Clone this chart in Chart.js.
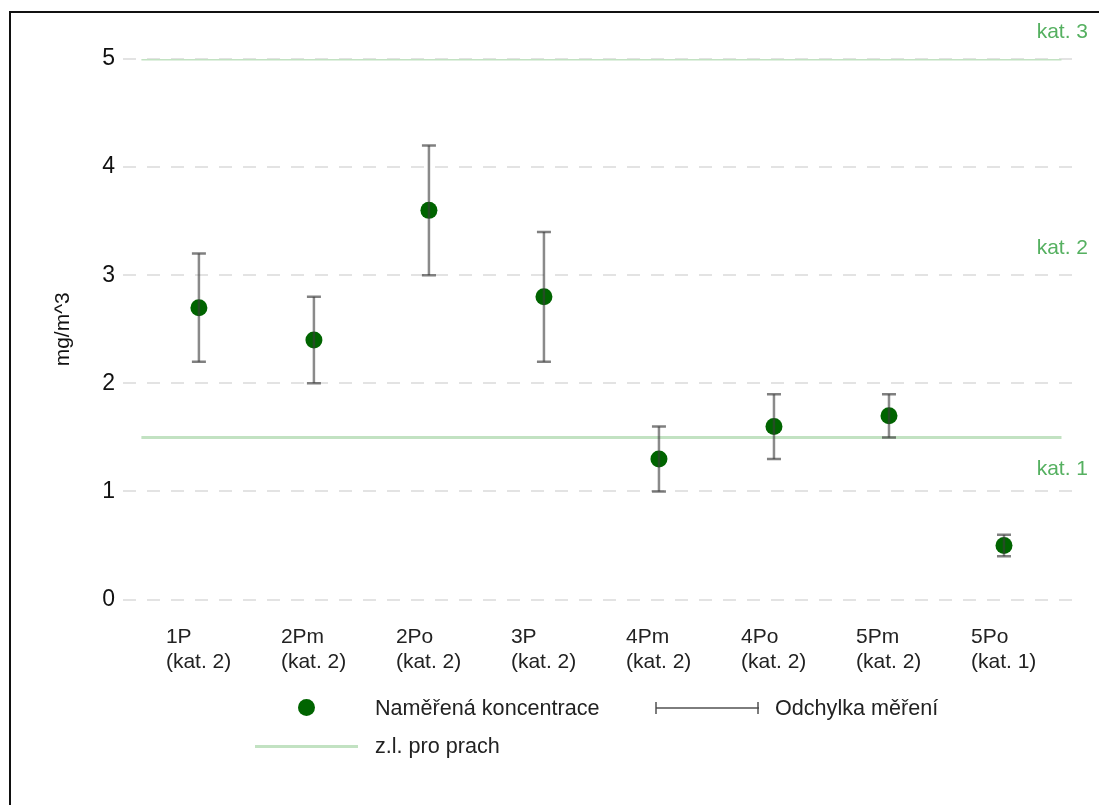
<!DOCTYPE html>
<html>
<head>
<meta charset="utf-8">
<script src="https://cdn.jsdelivr.net/npm/chart.js@4/dist/chart.umd.min.js"></script>
<style>
  html, body { margin: 0; padding: 0; background: #fff; }
  #wrap { position: relative; width: 1099px; height: 805px; overflow: hidden; font-family: "Liberation Sans", Arial, sans-serif; }
  #frame { position: absolute; left: 9px; top: 11px; right: -10px; bottom: -10px; border-left: 2px solid #111; border-top: 2px solid #111; pointer-events: none; }
  #legend .item { position: absolute; display: flex; align-items: center; height: 30px; font-size: 21.6px; color: #222; white-space: nowrap; }
  #legend .icon { position: relative; width: 103px; height: 30px; margin-right: 17px; }
  .dot { position: absolute; left: 43px; top: 6px; width: 17px; height: 17px; border-radius: 50%; background: #006400; }
  .hline { position: absolute; left: 0; top: 13.5px; width: 103px; height: 3px; background: #c2e2c2; }
  .eline { position: absolute; left: 1px; top: 14px; width: 103px; height: 2px; background: rgba(70,70,70,0.7); }
  .ecap { position: absolute; top: 9px; width: 2px; height: 12px; background: rgba(70,70,70,0.7); }
</style>
</head>
<body>
<div id="wrap">
  <canvas id="c" width="1099" height="805"></canvas>
  <div id="legend"></div>
  <div id="frame"></div>
</div>
<script>
// ---- data ----
const categories = ['1P', '2Pm', '2Po', '3P', '4Pm', '4Po', '5Pm', '5Po'];
const categoryClass = ['(kat. 2)', '(kat. 2)', '(kat. 2)', '(kat. 2)', '(kat. 2)', '(kat. 2)', '(kat. 2)', '(kat. 1)'];
const measured = [2.7, 2.4, 3.6, 2.8, 1.3, 1.6, 1.7, 0.5];
const errLow  = [2.2, 2.0, 3.0, 2.2, 1.0, 1.3, 1.5, 0.4];
const errHigh = [3.2, 2.8, 4.2, 3.4, 1.6, 1.9, 1.9, 0.6];
const limitValues = [5, 1.5];
const katLabels = ['kat. 1', 'kat. 2', 'kat. 3'];
const katLabelValues = [1.21, 3.25, 5.25];
const yTicks = [0, 1, 2, 3, 4, 5];
const seriesNames = ['Naměřená koncentrace', 'Odchylka měření', 'z.l. pro prach'];

// ---- style constants ----
const FONT = '"Liberation Sans", Arial, sans-serif';
const labelShift = 33 / 115;

const pointData = measured.map((v, i) => ({ x: i, y: v }));
const errData = [];
categories.forEach((c, i) => {
  errData.push({ x: i, y: errLow[i] });
  errData.push({ x: i, y: errHigh[i] });
  errData.push({ x: i, y: null });
});
const limitData = [];
limitValues.forEach(v => {
  limitData.push({ x: -0.5, y: v });
  limitData.push({ x: categories.length - 0.5, y: v });
  limitData.push({ x: categories.length - 0.5, y: null });
});

const katPlugin = {
  id: 'katLabels',
  afterDatasetsDraw(chart) {
    const ctx = chart.ctx;
    const y = chart.scales.y;
    ctx.save();
    ctx.font = '21px ' + FONT;
    ctx.fillStyle = '#55b060';
    ctx.textAlign = 'right';
    ctx.textBaseline = 'middle';
    katLabels.forEach((t, i) => {
      ctx.fillText(t, chart.chartArea.right + 15, y.getPixelForValue(katLabelValues[i]));
    });
    ctx.restore();
  }
};

const chart = new Chart(document.getElementById('c'), {
  type: 'line',
  data: {
    datasets: [
      {
        label: seriesNames[0],
        data: pointData,
        showLine: false,
        pointRadius: 8.5,
        pointHoverRadius: 8.5,
        pointBackgroundColor: '#006400',
        pointBorderWidth: 0,
        order: 1
      },
      {
        label: seriesNames[1],
        data: errData,
        borderColor: 'rgba(60,60,60,0.6)',
        borderWidth: 2.5,
        spanGaps: false,
        pointStyle: 'line',
        pointRadius: 7,
        pointHoverRadius: 7,
        pointBorderColor: 'rgba(60,60,60,0.65)',
        pointBorderWidth: 2.5,
        order: 0
      },
      {
        label: seriesNames[2],
        data: limitData,
        borderColor: '#c2e2c2',
        borderWidth: 3,
        pointRadius: 0,
        spanGaps: false,
        order: 2
      }
    ]
  },
  options: {
    responsive: false,
    animation: false,
    layout: { padding: { left: 20, top: 59, right: 26, bottom: 105 } },
    plugins: {
      legend: { display: false },
      tooltip: { enabled: false }
    },
    scales: {
      x: {
        type: 'linear',
        min: -0.66,
        max: 7.6,
        afterBuildTicks(scale) {
          scale.ticks = categories.map((c, i) => ({ value: i - labelShift }));
        },
        grid: { display: false, drawTicks: false },
        border: { display: false },
        ticks: {
          autoSkip: false,
          maxRotation: 0,
          align: 'start',
          padding: 25,
          color: '#222',
          font: { family: FONT, size: 21, lineHeight: 1.2 },
          callback(value) {
            const i = Math.round(value + labelShift);
            return [categories[i], categoryClass[i]];
          }
        }
      },
      y: {
        min: 0,
        max: 5,
        afterBuildTicks(scale) {
          scale.ticks = yTicks.map(v => ({ value: v }));
        },
        afterFit(scale) { scale.width = 103; },
        grid: { color: '#e3e3e3', lineWidth: 2, drawTicks: false },
        border: { display: false, dash: [13, 11] },
        ticks: {
          padding: 8,
          color: '#111',
          font: { family: FONT, size: 23 }
        },
        title: {
          display: true,
          text: 'mg/m^3',
          color: '#111',
          padding: { top: 31, bottom: 0 },
          font: { family: FONT, size: 21 }
        }
      }
    }
  },
  plugins: [katPlugin]
});

// ---- HTML legend built from the chart's datasets ----
const legendPos = [
  { left: 255, top: 693 },
  { left: 655, top: 693 },
  { left: 255, top: 731 }
];
const legendIcons = [
  '<div class="dot"></div>',
  '<div class="eline"></div><div class="ecap" style="left:0"></div><div class="ecap" style="left:102px"></div>',
  '<div class="hline"></div>'
];
const legendEl = document.getElementById('legend');
chart.data.datasets.forEach((ds, i) => {
  const item = document.createElement('div');
  item.className = 'item';
  item.style.left = legendPos[i].left + 'px';
  item.style.top = legendPos[i].top + 'px';
  item.innerHTML = '<div class="icon">' + legendIcons[i] + '</div><span></span>';
  item.querySelector('span').textContent = ds.label;
  legendEl.appendChild(item);
});
</script>
</body>
</html>
